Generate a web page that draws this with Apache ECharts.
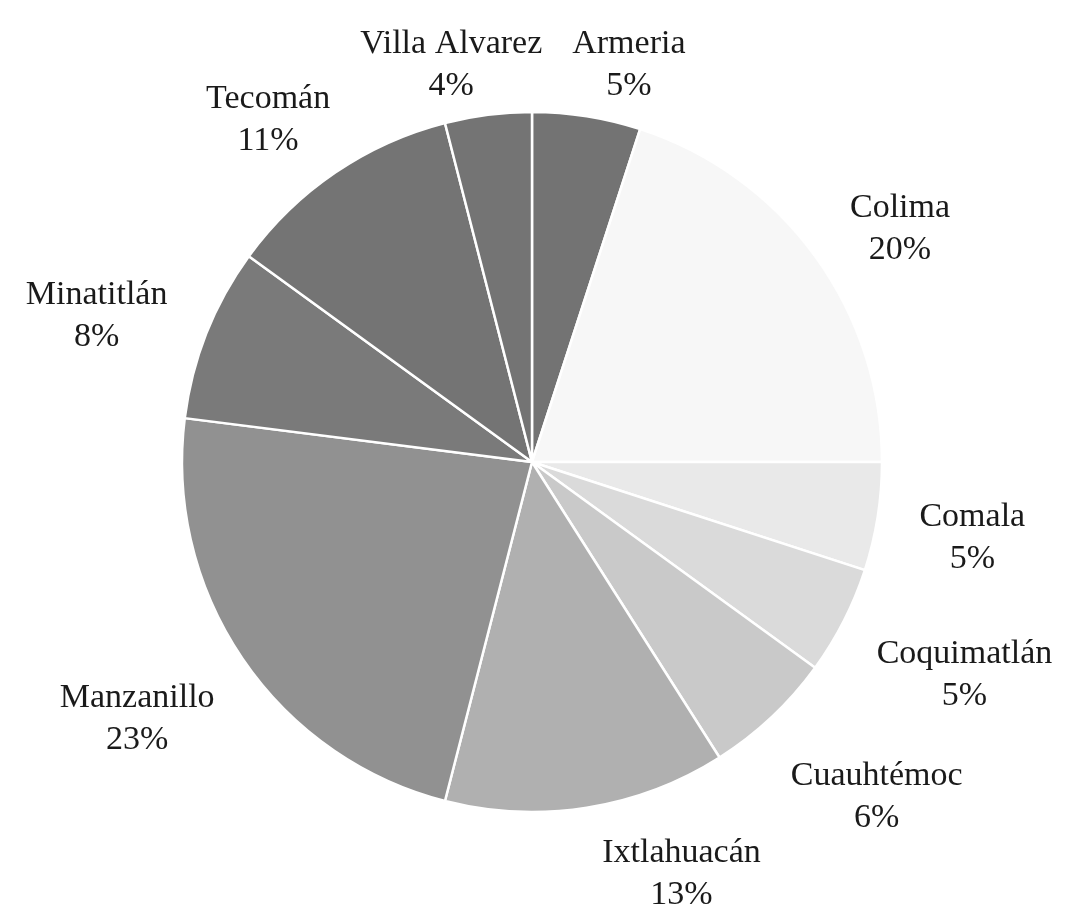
<!DOCTYPE html>
<html>
<head>
<meta charset="utf-8">
<script src="https://cdn.jsdelivr.net/npm/echarts@6/dist/echarts.min.js"></script>
<style>
  html, body { margin: 0; padding: 0; background: #ffffff; }
  #chart { width: 1073px; height: 918px; }
</style>
</head>
<body>
<div id="chart"></div>
<script>
// Municipalities, clockwise from 12 o'clock
const categories = ['Armeria', 'Colima', 'Comala', 'Coquimatlán', 'Cuauhtémoc',
                    'Ixtlahuacán', 'Manzanillo', 'Minatitlán', 'Tecomán', 'Villa Alvarez'];
// Percent shares
const shares = [5, 20, 5, 5, 6, 13, 23, 8, 11, 4];
// Slice fills
const sliceColors = ['#737373', '#f7f7f7', '#e9e9e9', '#dadada', '#c9c9c9',
                     '#b0b0b0', '#919191', '#7a7a7a', '#747474', '#747474'];

const W = 1073, H = 918;
const CX = 532, CY = 462, R = 350;
const GAP = 40, EFF = 0.45, DY = 12, TOP = 4, BOTTOM = 916, PADX = 30;
const SPREAD = 2.5 * Math.PI / 180;   // labels drift toward the horizontal

// ---- label placement (outside end, kept inside the canvas) ----
const collected = [];
let solved = null;

function boxDist(cx, cy, w, h) {
  const nx = Math.max(cx - w / 2, Math.min(CX, cx + w / 2));
  const ny = Math.max(cy - h / 2, Math.min(CY, cy + h / 2));
  return Math.hypot(nx - CX, ny - CY);
}
function placeAt(theta, w, h) {
  const ux = Math.sin(theta), uy = -Math.cos(theta);
  let lo = 0, hi = 1400;
  for (let k = 0; k < 60; k++) {
    const m = (lo + hi) / 2;
    if (boxDist(CX + ux * m, CY + uy * m, w, h * EFF) < R + GAP) lo = m; else hi = m;
  }
  return { cx: CX + ux * hi, cy: CY + uy * hi + DY };
}
function fits(p, w, h) {
  return p.cy - h / 2 >= TOP && p.cy + h / 2 <= BOTTOM &&
         p.cx - w / 2 >= 0 && p.cx + w / 2 <= W;
}
function solve() {
  const boxes = collected.map(c => {
    let theta0 = Math.atan2(c.ux, -c.uy);
    const dir = Math.sign(Math.sin(theta0) * Math.cos(theta0)) || 1;
    theta0 += dir * SPREAD * Math.abs(Math.sin(2 * theta0));
    let p = placeAt(theta0, c.w, c.h);
    for (let k = 1; k <= 240 && !fits(p, c.w, c.h); k++) {
      p = placeAt(theta0 + dir * k * Math.PI / 720, c.w, c.h);
    }
    return { cx: p.cx, cy: p.cy, w: c.w, h: c.h };
  });
  for (let it = 0; it < 30; it++) {
    let moved = false;
    for (let i = 0; i < boxes.length; i++) {
      for (let j = i + 1; j < boxes.length; j++) {
        const a = boxes[i], b = boxes[j];
        if (Math.abs(a.cy - b.cy) >= (a.h + b.h) / 2) continue;
        const need = (a.w + b.w) / 2 + PADX;
        const dx = b.cx - a.cx;
        if (Math.abs(dx) >= need) continue;
        const push = (need - Math.abs(dx)) / 2;
        const s = dx >= 0 ? 1 : -1;
        a.cx -= s * push; b.cx += s * push;
        moved = true;
      }
    }
    boxes.forEach(b => { b.cx = Math.max(b.w / 2, Math.min(W - b.w / 2, b.cx)); });
    if (!moved) break;
  }
  return boxes.map(b => ({ x: b.cx, y: b.cy, align: 'center', verticalAlign: 'middle' }));
}
function labelLayoutFn(p) {
  if (solved && solved[p.dataIndex]) return solved[p.dataIndex];
  const rect = p.labelRect;
  let ax;
  if (p.align === 'right') ax = rect.x + rect.width;
  else if (p.align === 'left') ax = rect.x;
  else ax = rect.x + rect.width / 2;
  const ay = rect.y + rect.height / 2;
  let ux = ax - CX, uy = ay - CY;
  const n = Math.hypot(ux, uy) || 1;
  collected[p.dataIndex] = { ux: ux / n, uy: uy / n, w: rect.width, h: rect.height };
  return {};
}

const chart = echarts.init(document.getElementById('chart'), null, { renderer: 'canvas' });

function buildOption(layoutFn) {
  return {
    backgroundColor: '#ffffff',
    animation: false,
    series: [{
      type: 'pie',
      center: [CX, CY],
      radius: [0, R],
      startAngle: 90,
      clockwise: true,
      avoidLabelOverlap: false,
      silent: true,
      data: categories.map((name, i) => ({
        name: name,
        value: shares[i],
        itemStyle: { color: sliceColors[i] }
      })),
      itemStyle: { borderColor: '#ffffff', borderWidth: 2.5 },
      label: {
        show: true,
        position: 'outside',
        distanceToLabelLine: 0,
        formatter: '{b}\n{c}%',
        fontFamily: '"Liberation Serif", "DejaVu Serif", serif',
        fontSize: 34,
        lineHeight: 42,
        color: '#1a1a1a'
      },
      labelLine: { show: false, length: 0, length2: 0 },
      labelLayout: layoutFn
    }]
  };
}

chart.setOption(buildOption(labelLayoutFn));

function secondPass() {
  if (solved) return;
  if (collected.filter(Boolean).length < categories.length) return;
  solved = solve();
  chart.setOption(buildOption(function (p) { return labelLayoutFn(p); }));
}
secondPass();
if (!solved) {
  chart.on('rendered', function () { secondPass(); });
}
</script>
</body>
</html>
